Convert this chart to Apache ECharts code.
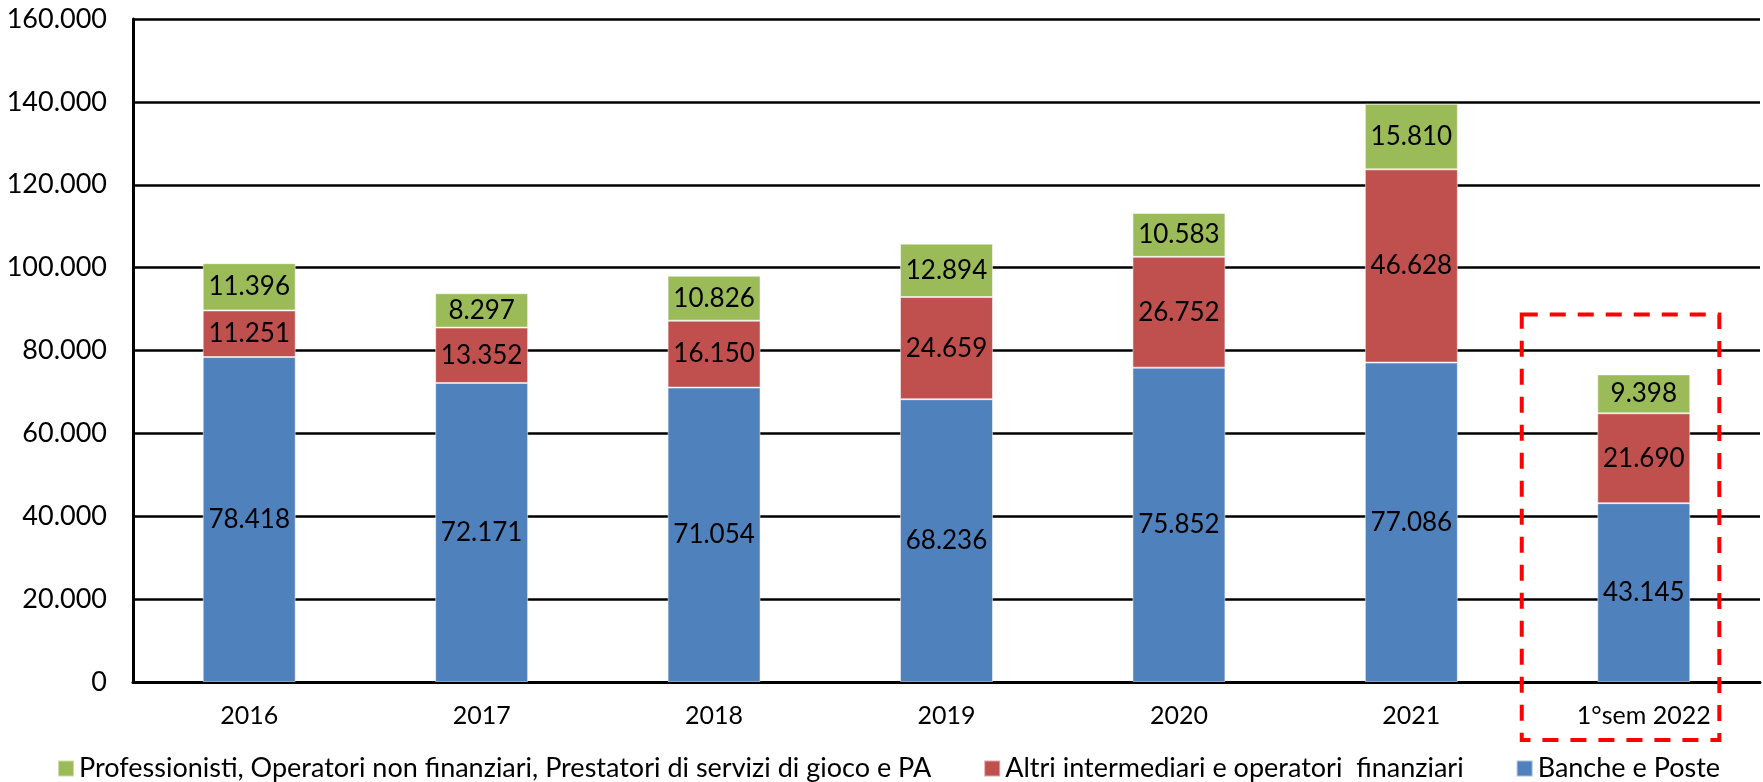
<!DOCTYPE html>
<html>
<head>
<meta charset="utf-8">
<script src="https://cdn.jsdelivr.net/npm/echarts@6/dist/echarts.min.js"></script>
<style>
  html, body { margin: 0; padding: 0; background: #fff; }
  #chart { width: 1763px; height: 782px; }
</style>
</head>
<body>
<div id="chart"></div>
<script>
  const categories = ['2016', '2017', '2018', '2019', '2020', '2021', '1°sem 2022']
  const banche = [78418, 72171, 71054, 68236, 75852, 77086, 43145]
  const altri = [11251, 13352, 16150, 24659, 26752, 46628, 21690]
  const professionisti = [11396, 8297, 10826, 12894, 10583, 15810, 9398]
  const seriesNames = [
    'Banche e Poste',
    'Altri intermediari e operatori  finanziari',
    'Professionisti, Operatori non finanziari, Prestatori di servizi di gioco e PA'
  ]

  const font = 'Lato'
  const fmt = v => String(v).replace(/\B(?=(\d{3})+(?!\d))/g, '.')

  function barSeries(name, data, color) {
    return {
      name: name,
      type: 'bar',
      stack: 'tot',
      barWidth: '40%',
      data: data,
      itemStyle: { color: color, borderColor: 'rgba(255,255,255,0.5)', borderWidth: 1 },
      label: {
        show: true,
        position: 'inside',
        color: '#000',
        fontFamily: font,
        fontSize: 26,
        formatter: p => fmt(p.value)
      }
    }
  }

  const chart = echarts.init(document.getElementById('chart'))
  chart.setOption({
    animation: false,
    grid: { left: 133, right: 3, top: 19, bottom: 100, containLabel: false },
    legend: {
      data: [seriesNames[2], seriesNames[1], seriesNames[0]],
      left: 52,
      top: 750,
      icon: 'rect',
      itemWidth: 16,
      itemHeight: 16,
      itemGap: 52,
      textStyle: { fontFamily: font, fontSize: 27, color: '#000' }
    },
    xAxis: {
      type: 'category',
      data: categories,
      axisLine: { lineStyle: { color: '#000', width: 3 } },
      axisTick: { show: false },
      axisLabel: { color: '#000', fontFamily: font, fontSize: 25, margin: 21 }
    },
    yAxis: {
      type: 'value',
      min: 0,
      max: 160000,
      interval: 20000,
      axisLine: { show: true, lineStyle: { color: '#000', width: 3 } },
      axisTick: { show: false },
      splitLine: { lineStyle: { color: '#000', width: 2.5 } },
      axisLabel: { color: '#000', fontFamily: font, fontSize: 27, margin: 26, formatter: v => fmt(v) }
    },
    series: [
      barSeries(seriesNames[0], banche, '#4F81BD'),
      barSeries(seriesNames[1], altri, '#C0504D'),
      barSeries(seriesNames[2], professionisti, '#9BBB59')
    ]
  })

  // dashed frame around the last category (slightly left of the bar, as in the source)
  const cx = chart.convertToPixel({ xAxisIndex: 0 }, categories[categories.length - 1])
  const step = chart.convertToPixel({ xAxisIndex: 0 }, categories[1]) - chart.convertToPixel({ xAxisIndex: 0 }, categories[0])
  const half = step * 0.425
  const shift = step * 0.1
  const yTop = chart.convertToPixel({ yAxisIndex: 0 }, 88700)
  chart.setOption({
    graphic: [{
      type: 'rect',
      shape: { x: cx - shift - half, y: yTop, width: half * 2, height: 740 - yTop },
      style: { fill: 'none', stroke: '#FF0000', lineWidth: 4, lineDash: [16, 12] },
      z: 100
    }]
  })
</script>
</body>
</html>
